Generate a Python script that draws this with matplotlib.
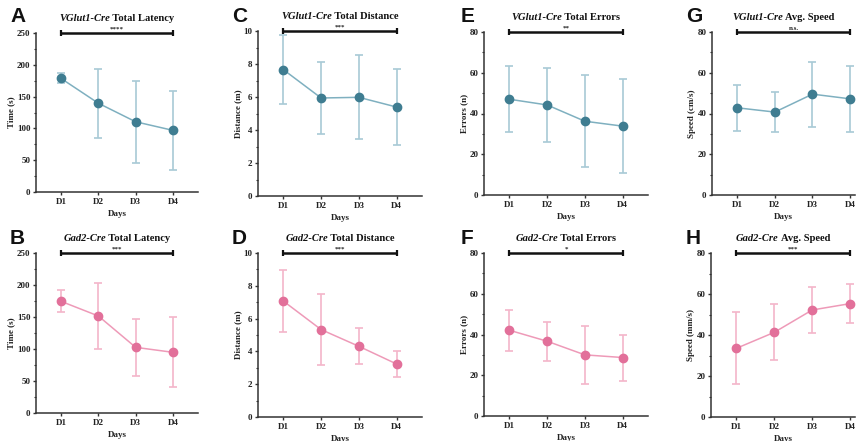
import numpy as np
import matplotlib
matplotlib.use("Agg")
import matplotlib.pyplot as plt
from matplotlib.offsetbox import TextArea, HPacker, AnchoredOffsetbox
from matplotlib.ticker import MultipleLocator

days = ["D1", "D2", "D3", "D4"]

# VGlut1-Cre group (mean, SD)
vglut_latency = [178.6, 139.6, 110.4, 96.9]
vglut_latency_sd = [8.0, 54.5, 64.5, 62.5]
vglut_distance = [7.66, 5.94, 5.98, 5.39]
vglut_distance_sd = [2.07, 2.17, 2.55, 2.31]
vglut_errors = [47.0, 44.2, 36.2, 33.8]
vglut_errors_sd = [16.3, 18.0, 22.6, 23.0]
vglut_speed = [42.8, 40.7, 49.5, 47.2]
vglut_speed_sd = [11.3, 9.7, 15.9, 16.2]

# Gad2-Cre group (mean, SD)
gad_latency = [174.5, 151.6, 102.6, 94.8]
gad_latency_sd = [17.0, 51.0, 44.8, 54.5]
gad_distance = [7.07, 5.33, 4.31, 3.23]
gad_distance_sd = [1.89, 2.15, 1.09, 0.80]
gad_errors = [42.1, 36.7, 30.0, 28.7]
gad_errors_sd = [10.0, 9.5, 14.1, 11.3]
gad_speed = [33.5, 41.3, 52.2, 55.3]
gad_speed_sd = [17.6, 13.7, 11.2, 9.6]

W, H = 865, 441
SERIF = "Liberation Serif"

BLUE = dict(marker="#3f7d91", line="#7fb0c0", err="#a8cad6")
PINK = dict(marker="#e2709a", line="#ee9ab8", err="#f4b5ca")


def px_axes(fig, left, top, right, bottom):
    return fig.add_axes([left / W, 1 - bottom / H, (right - left) / W, (bottom - top) / H])


def panel(fig, box, letter, letter_xy, strain, metric, means, sds, colors,
          ylabel, ymax, major, stars, xmax=4.67):
    ax = px_axes(fig, *box)
    x = np.arange(1, len(days) + 1)
    ax.errorbar(x, means, yerr=sds, fmt="none", ecolor=colors["err"],
                elinewidth=1.2, capsize=3, capthick=1.2, zorder=2)
    ax.plot(x, means, color=colors["line"], lw=1.1, zorder=3)
    ax.plot(x, means, "o", color=colors["marker"], ms=6, mec=colors["marker"], zorder=4)

    ax.set_xlim(0.33, xmax)
    ax.set_ylim(0, ymax)
    ax.set_xticks(x)
    ax.set_xticklabels(days)
    ax.yaxis.set_major_locator(MultipleLocator(major))
    ax.yaxis.set_minor_locator(MultipleLocator(major / 2))
    for side in ("top", "right"):
        ax.spines[side].set_visible(False)
    for side in ("left", "bottom"):
        ax.spines[side].set_linewidth(1.1)
        ax.spines[side].set_color("#333333")
    ax.tick_params(which="major", length=2.5, width=1, colors="#333333", pad=1.5)
    ax.tick_params(which="minor", length=1.8, width=0.8, colors="#333333")
    ax.tick_params(axis="x", which="minor", length=0)
    for lab in ax.get_xticklabels() + ax.get_yticklabels():
        lab.set_fontfamily(SERIF)
        lab.set_fontweight("bold")
        lab.set_fontsize(6.5)
        lab.set_color("#222222")
    ax.set_xlabel("Days", family=SERIF, weight="bold", fontsize=6.5,
                  color="#222222", labelpad=3)
    ax.set_ylabel(ylabel, family=SERIF, weight="bold", fontsize=6.5,
                  color="#222222", labelpad=1)

    # significance bar D1 vs D4
    ax.plot([1, 4], [ymax, ymax], color="#111111", lw=1.8, clip_on=False,
            solid_capstyle="butt", zorder=5)
    ax.plot([1, 4], [ymax, ymax], ls="none", marker="|", ms=5, mew=1.6,
            color="#111111", clip_on=False, zorder=5)
    ax.text(2.5, ymax * 1.006, stars, ha="center", va="bottom", family=SERIF,
            weight="bold", fontsize=5, color="#222222")

    # title: italic strain name followed by the metric
    t1 = TextArea(strain, textprops=dict(family=SERIF, weight="bold",
                                         style="italic", size=7.6, color="#111111"))
    t2 = TextArea(" " + metric, textprops=dict(family=SERIF, weight="bold",
                                               size=7.6, color="#111111"))
    box_t = HPacker(children=[t1, t2], align="baseline", pad=0, sep=0)
    anchored = AnchoredOffsetbox(loc="lower center", child=box_t, pad=0, borderpad=0,
                                 frameon=False, bbox_to_anchor=(0.5, 1.06),
                                 bbox_transform=ax.transAxes)
    ax.add_artist(anchored)

    fig.text(letter_xy[0] / W, 1 - letter_xy[1] / H, letter, family="Liberation Sans",
             weight="bold", fontsize=15, ha="left", va="center", color="#111111")
    return ax


fig = plt.figure(figsize=(W / 100, H / 100), dpi=100)

panel(fig, (36, 33, 198, 192), "A", (10, 17), "VGlut1-Cre", "Total Latency",
      vglut_latency, vglut_latency_sd, BLUE, "Time (s)", 250, 50, "****")
panel(fig, (258, 31, 422, 196), "C", (232, 17), "VGlut1-Cre", "Total Distance",
      vglut_distance, vglut_distance_sd, BLUE, "Distance (m)", 10, 2, "***")
panel(fig, (484, 32, 648, 195), "E", (461, 17), "VGlut1-Cre", "Total Errors",
      vglut_errors, vglut_errors_sd, BLUE, "Errors (n)", 80, 20, "**")
panel(fig, (712, 32, 855, 195), "G", (686, 17), "VGlut1-Cre", "Avg. Speed",
      vglut_speed, vglut_speed_sd, BLUE, "Speed (cm/s)", 80, 20, "n.s.", xmax=4.13)

panel(fig, (36, 253, 198, 413), "B", (10, 239), "Gad2-Cre", "Total Latency",
      gad_latency, gad_latency_sd, PINK, "Time (s)", 250, 50, "***")
panel(fig, (258, 253, 422, 417), "D", (232, 239), "Gad2-Cre", "Total Distance",
      gad_distance, gad_distance_sd, PINK, "Distance (m)", 10, 2, "***")
panel(fig, (484, 253, 648, 416), "F", (461, 239), "Gad2-Cre", "Total Errors",
      gad_errors, gad_errors_sd, PINK, "Errors (n)", 80, 20, "*")
panel(fig, (711, 253, 855, 417), "H", (686, 239), "Gad2-Cre", "Avg. Speed",
      gad_speed, gad_speed_sd, PINK, "Speed (mm/s)", 80, 20, "***", xmax=4.13)

fig.savefig("out.png", dpi=100)
